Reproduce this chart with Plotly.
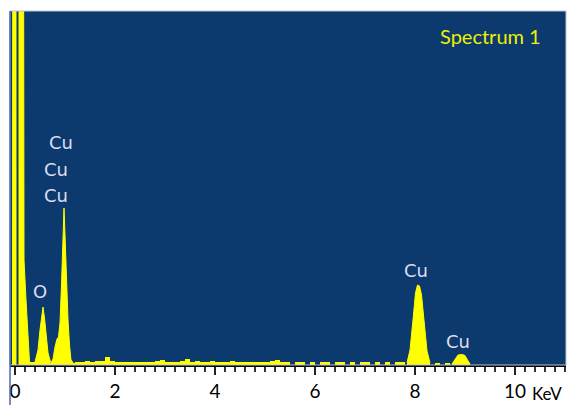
import plotly.graph_objects as go

# ---- data (energy in keV, counts) ----
zero_kev = [-0.05, -0.04, 0.16, 0.18, 0.22, 0.26, 0.29]
zero_counts = [0, 9000, 9000, 1050, 650, 200, 30]

o_kev = [0.40, 0.46, 0.50, 0.53, 0.56, 0.59, 0.62, 0.66, 0.71]
o_counts = [30, 150, 350, 500, 580, 470, 300, 120, 30]

cul_kev = [0.72, 0.76, 0.80, 0.84, 0.87, 0.90, 0.93, 0.96, 0.98, 1.00, 1.03, 1.06, 1.09, 1.12, 1.16]
cul_counts = [20, 60, 180, 260, 280, 420, 800, 1350, 1570, 1300, 800, 450, 200, 50, 25]

cuka_kev = [7.84, 7.90, 7.96, 8.01, 8.05, 8.09, 8.13, 8.18, 8.24, 8.30]
cuka_counts = [20, 150, 450, 720, 800, 790, 700, 420, 140, 20]

cukb_kev = [8.74, 8.80, 8.86, 8.94, 9.00, 9.05, 9.10]
cukb_counts = [10, 60, 100, 105, 95, 50, 10]

noise_kev = [0.2, 0.3, 0.4, 0.5, 0.6, 0.7, 0.8, 0.9, 1.0, 1.1,
             1.2, 1.3, 1.4, 1.5, 1.6, 1.7, 1.8, 1.9, 2.0, 2.1,
             2.2, 2.3, 2.4, 2.5, 2.6, 2.7, 2.8, 2.9, 3.0, 3.1,
             3.2, 3.3, 3.4, 3.5, 3.6, 3.7, 3.8, 3.9, 4.0, 4.1,
             4.2, 4.3, 4.4, 4.5, 4.6, 4.7, 4.8, 4.9, 5.0, 5.1,
             5.2, 5.3, 5.4, 5.5, 5.6, 5.7, 5.8, 5.9, 6.0, 6.1,
             6.2, 6.3, 6.4, 6.5, 6.6, 6.7, 6.8, 6.9, 7.0, 7.1,
             7.2, 7.3, 7.4, 7.5, 7.6, 7.7, 7.8, 7.9, 8.0, 8.1,
             8.2, 8.3, 8.4, 8.5, 8.6, 8.7, 8.8, 8.9, 9.0, 9.1,
             9.2]
noise_counts = [30, 30, 20, 20, 20, 20, 20, 20, 20, 20,
                30, 30, 40, 30, 40, 40, 80, 40, 30, 30,
                30, 30, 30, 30, 30, 30, 40, 50, 30, 30,
                30, 40, 60, 30, 40, 30, 30, 40, 30, 30,
                30, 40, 30, 30, 30, 30, 30, 30, 30, 40,
                50, 30, 30, 0, 30, 30, 0, 30, 0, 30,
                30, 0, 30, 30, 0, 30, 0, 30, 30, 0,
                30, 0, 30, 0, 30, 30, 0, 0, 0, 0,
                0, 0, 20, 0, 20, 0, 0, 0, 0, 0,
                0]

zero_marker_kev = [0.05, 0.05]
zero_marker_counts = [0, 9000]

peak_labels = ["Cu", "Cu", "Cu", "O", "Cu", "Cu"]
label_kev = [0.92, 0.82, 0.82, 0.50, 8.02, 8.86]
label_counts = [2210, 1940, 1680, 720, 930, 220]

tick_vals = [0, 2, 4, 6, 8, 10]
tick_text = ["0", "2", "4", "6", "8", "10"]

BG = "#0c3a6e"
YEL = "#ffff00"

fig = go.Figure()

fig.add_trace(go.Scatter(x=noise_kev, y=noise_counts, mode="lines", line_shape="hv",
                         line=dict(color=YEL, width=0), fill="tozeroy", fillcolor=YEL,
                         hoverinfo="skip"))
for xs, ys in [(zero_kev, zero_counts), (o_kev, o_counts), (cul_kev, cul_counts),
               (cuka_kev, cuka_counts), (cukb_kev, cukb_counts)]:
    fig.add_trace(go.Scatter(x=xs, y=ys, mode="lines",
                             line=dict(color=YEL, width=1), fill="tozeroy", fillcolor=YEL,
                             hoverinfo="skip"))
fig.add_trace(go.Scatter(x=zero_marker_kev, y=zero_marker_counts, mode="lines",
                         line=dict(color=BG, width=2), hoverinfo="skip"))

fig.add_trace(go.Scatter(x=label_kev, y=label_counts, mode="text", text=peak_labels,
                         textfont=dict(family="DejaVu Sans", size=18, color="#dcdcf0"),
                         hoverinfo="skip"))

fig.update_layout(
    width=570, height=405,
    margin=dict(l=10, r=4, t=11, b=40),
    paper_bgcolor="white", plot_bgcolor=BG,
    showlegend=False,
    xaxis=dict(range=[-0.1, 11.02], tickvals=tick_vals, ticktext=tick_text,
               showgrid=False, zeroline=False, showline=True, linecolor="black", linewidth=1.5,
               ticks="outside", ticklen=8, tickwidth=1.5, tickcolor="#222",
               minor=dict(dtick=0.2, ticks="outside", ticklen=5, tickwidth=1.5, tickcolor="#333"),
               tickfont=dict(family="Lato", size=19, color="black")),
    yaxis=dict(range=[0, 3540], showticklabels=False, showgrid=False, zeroline=False,
               showline=False, ticks=""),
    shapes=[
        dict(type="rect", xref="paper", yref="paper", x0=0, x1=1, y0=0, y1=1,
             line=dict(color="#b8c4d4", width=1)),
        dict(type="line", xref="paper", yref="paper", x0=0, x1=0, y0=-0.12, y1=1,
             line=dict(color="#4a6aa8", width=1.5)),
    ],
    annotations=[
        dict(text="Spectrum 1", xref="paper", yref="paper", x=0.865, y=0.93,
             xanchor="center", yanchor="middle", showarrow=False,
             font=dict(family="Lato", size=20, color="#f0f000")),
        dict(text="KeV", xref="paper", yref="paper", x=0.995, y=-0.112,
             xanchor="right", yanchor="bottom", showarrow=False, borderpad=0,
             font=dict(family="Lato", size=17, color="black")),
    ],
)

fig.write_html("out.html", config={"displayModeBar": False},
               post_script="document.body.style.margin='0';document.body.style.overflow='hidden';")
